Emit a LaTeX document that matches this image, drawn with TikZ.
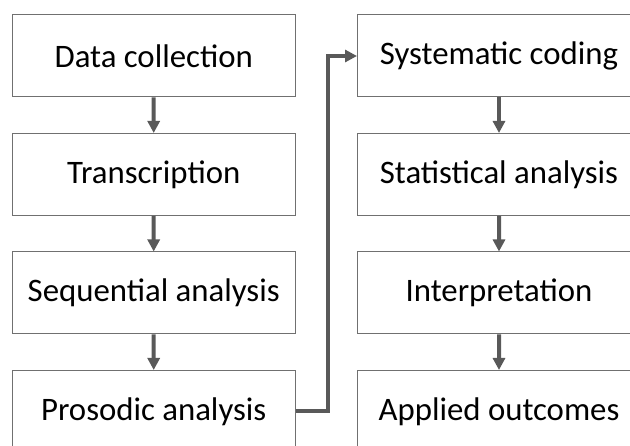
\documentclass[tikz,border=0pt]{standalone}
\usepackage{fontspec}
\setmainfont{Carlito}
\usetikzlibrary{arrows.meta}
\definecolor{boxline}{RGB}{112,112,112}
\definecolor{flowarrow}{RGB}{89,89,89}

\begin{document}
\begin{tikzpicture}[x=1pt,y=-1pt,
      every node/.style={draw=boxline,line width=1pt,rectangle,
        minimum width=283pt,minimum height=82pt,inner sep=0pt,
        font=\fontsize{32.8}{36}\selectfont},
      edge from parent/.style={draw=flowarrow,line width=4pt,
        -{Triangle[length=12pt,width=12pt]}},
      level distance=118.5pt]
      \useasboundingbox (0,0) rectangle (630,446);
      \clip (0,0) rectangle (630,446);
      \node (datacoll) at (153.7,56) {Data collection}
        child { node (transcr) {Transcription}
          child { node (sequent) {Sequential analysis}
            child { node (prosodic) {Prosodic analysis} } } };
      \node (syscoding) at (499,56) {Systematic coding}
        child { node (statist) {Statistical analysis}
          child { node (interp) {Interpretation}
            child { node (applied) {Applied outcomes} } } };
      \draw[draw=flowarrow,line width=4pt,-{Triangle[length=12pt,width=12pt]}]
        (prosodic.east) -- ++(32,0) |- (syscoding.west);
    \end{tikzpicture}
\end{document}
